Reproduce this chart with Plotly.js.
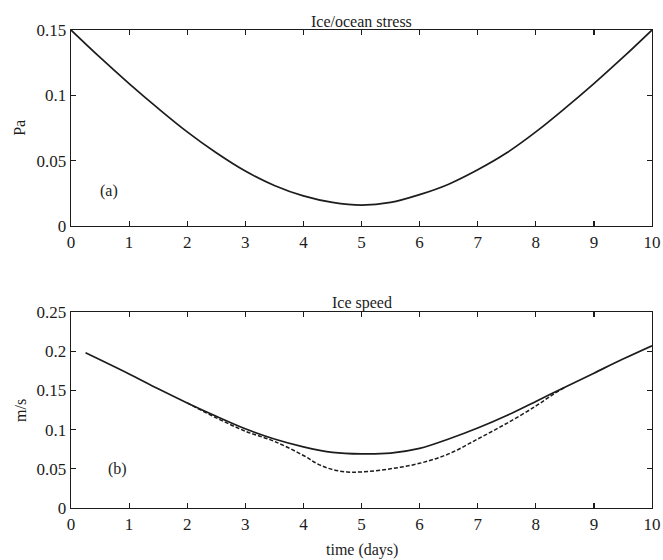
<!DOCTYPE html>
<html>
<head>
<meta charset="utf-8">
<script src="https://cdn.plot.ly/plotly-3.0.1.min.js"></script>
<style>html,body{margin:0;padding:0;background:#fff;}#chart{width:663px;height:560px;}</style>
</head>
<body>
<div id="chart"></div>
<script>
// (a) Ice/ocean stress (Pa)
const stressDays = [0,0.5,1,1.5,2,2.5,3,3.5,4,4.5,5,5.5,6,6.5,7,7.5,8,8.5,9,9.5,10];
const stressPa   = [0.150,0.129,0.109,0.090,0.072,0.056,0.042,0.031,0.023,0.018,0.016,0.018,0.024,0.032,0.043,0.056,0.072,0.090,0.109,0.129,0.150];

// (b) Ice speed (m/s), solid
const speedDays  = [0.25,1,1.5,2,2.5,3,3.5,4,4.5,5,5.5,6,6.5,7,7.5,8,8.5,9,9.5,10];
const speedSolid = [0.198,0.171,0.152,0.134,0.117,0.101,0.088,0.078,0.071,0.069,0.070,0.076,0.088,0.102,0.118,0.136,0.154,0.172,0.190,0.207];

// (b) Ice speed (m/s), dashed
const dashDays   = [2,2.5,3,3.5,4,4.25,4.5,4.75,5,5.5,6,6.5,7,7.5,8,8.3,8.5];
const speedDash  = [0.134,0.115,0.098,0.085,0.067,0.056,0.049,0.046,0.046,0.050,0.057,0.069,0.088,0.108,0.130,0.145,0.154];

const xTicks = [0,1,2,3,4,5,6,7,8,9,10];

const font = {family: '"Liberation Serif", "DejaVu Serif", serif', color: '#1c1c1c'};
const ink = '#1c1c1c';

const traces = [
  {x: stressDays, y: stressPa, type: 'scatter', mode: 'lines', xaxis: 'x', yaxis: 'y',
   line: {color: ink, width: 1.7, shape: 'spline'}, showlegend: false, hoverinfo: 'skip'},
  {x: dashDays, y: speedDash, type: 'scatter', mode: 'lines', xaxis: 'x2', yaxis: 'y2',
   line: {color: ink, width: 1.5, dash: '4px,2px', shape: 'spline'}, showlegend: false, hoverinfo: 'skip'},
  {x: speedDays, y: speedSolid, type: 'scatter', mode: 'lines', xaxis: 'x2', yaxis: 'y2',
   line: {color: ink, width: 1.7, shape: 'spline'}, showlegend: false, hoverinfo: 'skip'}
];

function xax(anchor) {
  return {anchor: anchor, range: [0, 10], tickvals: xTicks, ticktext: xTicks.map(String),
    ticks: 'inside', ticklen: 5, tickwidth: 1.2, tickcolor: ink,
    showline: true, linecolor: ink, linewidth: 1.4, mirror: 'ticks',
    showgrid: false, zeroline: false, fixedrange: true,
    tickfont: Object.assign({size: 17}, font)};
}
function yax(anchor, domain, max, tv) {
  return {anchor: anchor, domain: domain, range: [0, max], tickvals: tv, ticktext: tv.map(String),
    ticks: 'inside', ticklen: 5, tickwidth: 1.2, tickcolor: ink,
    showline: true, linecolor: ink, linewidth: 1.4, mirror: 'ticks',
    showgrid: false, zeroline: false, fixedrange: true, ticklabelstandoff: 0,
    tickfont: Object.assign({size: 17}, font)};
}

const layout = {
  width: 663, height: 560,
  margin: {l: 71, r: 11, t: 30, b: 52},
  paper_bgcolor: '#ffffff', plot_bgcolor: '#ffffff',
  font: font,
  showlegend: false,
  xaxis: xax('y'),
  yaxis: yax('x', [0.59, 1], 0.15, [0, 0.05, 0.1, 0.15]),
  xaxis2: xax('y2'),
  yaxis2: yax('x2', [0, 0.41], 0.25, [0, 0.05, 0.1, 0.15, 0.2, 0.25]),
  annotations: [
    {text: 'Ice/ocean stress', xref: 'paper', yref: 'paper', x: 0.5, y: 1, yanchor: 'bottom', xanchor: 'center',
     showarrow: false, yshift: -2, font: Object.assign({size: 16}, font)},
    {text: 'Ice speed', xref: 'paper', yref: 'paper', x: 0.5, y: 0.41, yanchor: 'bottom', xanchor: 'center',
     showarrow: false, yshift: -2, font: Object.assign({size: 16}, font)},
    {text: 'Pa', xref: 'paper', yref: 'paper', x: -0.088, y: 0.795, textangle: -90, xanchor: 'center', yanchor: 'middle',
     showarrow: false, font: Object.assign({size: 16}, font)},
    {text: 'm/s', xref: 'paper', yref: 'paper', x: -0.088, y: 0.205, textangle: -90, xanchor: 'center', yanchor: 'middle',
     showarrow: false, font: Object.assign({size: 16}, font)},
    {text: 'time (days)', xref: 'paper', yref: 'paper', x: 0.5, y: -0.088, xanchor: 'center', yanchor: 'middle',
     showarrow: false, font: Object.assign({size: 16}, font)},
    {text: '(a)', xref: 'x', yref: 'y', x: 0.65, y: 0.027, xanchor: 'center', yanchor: 'middle',
     showarrow: false, font: Object.assign({size: 16}, font)},
    {text: '(b)', xref: 'x2', yref: 'y2', x: 0.8, y: 0.05, xanchor: 'center', yanchor: 'middle',
     showarrow: false, font: Object.assign({size: 16}, font)}
  ]
};

Plotly.newPlot('chart', traces, layout, {staticPlot: true, displayModeBar: false});
</script>
</body>
</html>
